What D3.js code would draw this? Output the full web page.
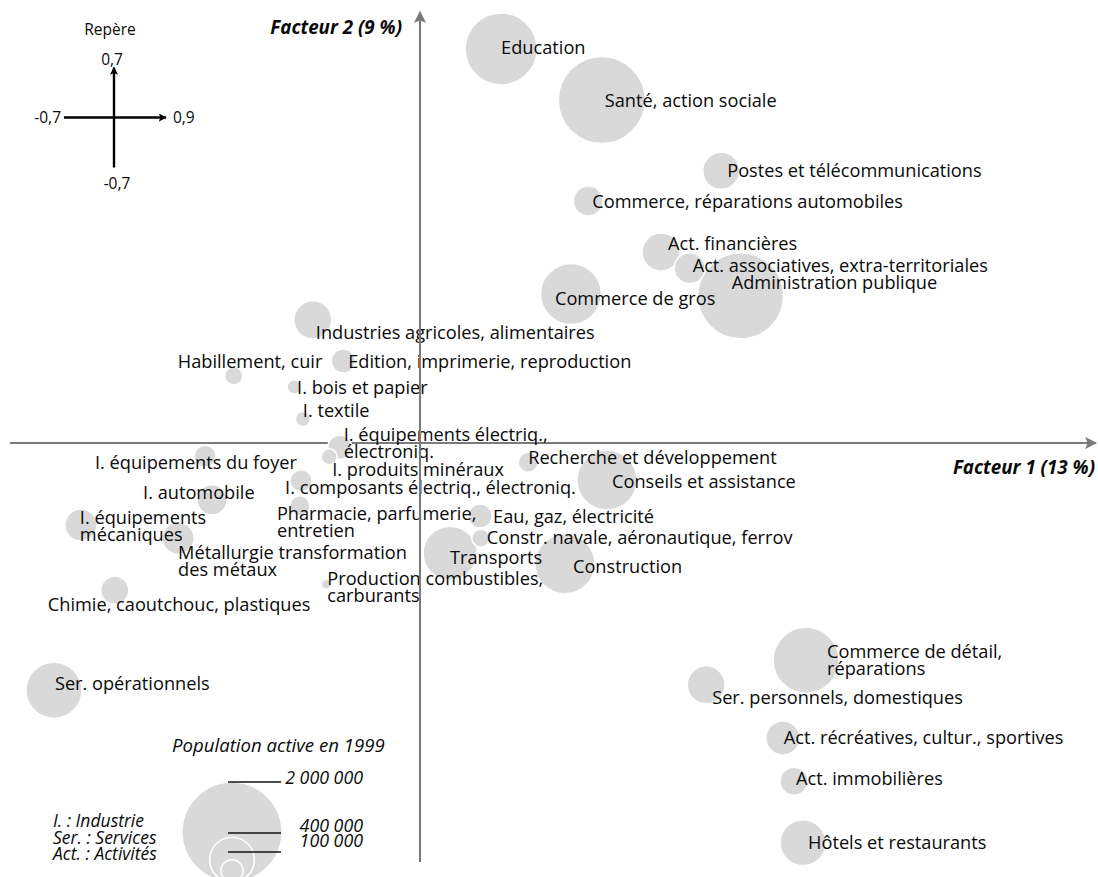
<!DOCTYPE html>
<html><head><meta charset="utf-8">
<script src="https://cdn.jsdelivr.net/npm/d3@7"></script>
<style>
body{margin:0;background:#fff}
svg{display:block}
text{font-family:"Open Sans","Noto Sans",sans-serif;fill:#0a0a0a}
</style>
</head><body>
<svg id="chart" width="1098" height="877"></svg>
<script>
// ---- DATA ----
const sectors = [
  "Education","Santé, action sociale","Postes et télécommunications","Commerce, réparations automobiles",
  "Act. financières","Act. associatives, extra-territoriales","Administration publique","Commerce de gros",
  "Industries agricoles, alimentaires","Habillement, cuir","Edition, imprimerie, reproduction","I. bois et papier",
  "I. textile","I. équipements électriq.,|électroniq.","I. produits minéraux","I. composants électriq., électroniq.",
  "Pharmacie, parfumerie,|entretien","Eau, gaz, électricité","Constr. navale, aéronautique, ferrov","Transports",
  "Construction","Recherche et développement","Conseils et assistance","Production combustibles,|carburants",
  "I. équipements du foyer","I. automobile","I. équipements|mécaniques","Métallurgie transformation|des métaux",
  "Chimie, caoutchouc, plastiques","Ser. opérationnels","Commerce de détail,|réparations","Ser. personnels, domestiques",
  "Act. récréatives, cultur., sportives","Act. immobilières","Hôtels et restaurants"
];
const factor1 = [
  0.108, 0.242, 0.401, 0.224,
  0.321, 0.359, 0.427, 0.201,
  -0.183, -0.318, -0.131, -0.215,
  -0.200, -0.137, -0.155, -0.203,
  -0.205, 0.080, 0.081, 0.040,
  0.193, 0.144, 0.249, -0.160,
  -0.367, -0.355, -0.579, -0.413,
  -0.521, -0.625, 0.514, 0.381,
  0.483, 0.498, 0.510
];
const factor2 = [
  0.640, 0.557, 0.442, 0.393,
  0.310, 0.284, 0.239, 0.242,
  0.200, 0.109, 0.133, 0.091,
  0.039, -0.007, -0.023, -0.063,
  -0.105, -0.122, -0.159, -0.184,
  -0.202, -0.032, -0.062, -0.236,
  -0.022, -0.095, -0.137, -0.159,
  -0.246, -0.413, -0.363, -0.404,
  -0.493, -0.565, -0.668
];
// population active 1999, thousands
const population = [
  1037, 1514, 274, 180,
  289, 192, 1479, 740,
  289, 65, 115, 39,
  45, 115, 51, 97,
  80, 115, 65, 583,
  720, 80, 720, 20,
  97, 180, 205, 205,
  157, 627, 871, 289,
  231, 157, 423
];
const legendValues = [2000, 400, 100];
const legendTexts = ["2 000 000", "400 000", "100 000"];
const abbreviations = ["I. : Industrie", "Ser. : Services", "Act. : Activités"];
const axisTitles = ["Facteur 1 (13 %)", "Facteur 2 (9 %)"];
const repereLabels = ["0,7", "-0,7", "0,9", "-0,7"];

// ---- LAYOUT (label offsets in px from bubble centre) ----
const labelDx = [0,3,6,4, 7,3,-9,-16, 3,-56,5,3, 0,4,3,-16, -23,13,6,0, 8,0,5,1, -110,-69,-1,0, -67,1,21,6, 1,2,5];
const labelDy = [-1,0,0,0, -9,-3,-13,4, 13,-14,0,0, -9,-4.5,13,7, 16,0,-1,4, 3,-5,1,3, 6,-7,1,23, 14,-7,0,13, -1,-3,0];

const svg = d3.select("#chart");
const x = d3.scaleLinear().domain([-0.7, 0, 0.9]).range([10, 420, 1096]);
const y = d3.scaleLinear().domain([-0.7, 0, 0.7]).range([862, 443, 12]);
const r = d3.scaleSqrt().domain([0, 2000]).range([0, 50]);

const axisColor = "#7a7a7a";
const defs = svg.append("defs");
defs.append("marker").attr("id","arrowGrey2").attr("viewBox","0 0 10 10").attr("refX",9).attr("refY",5)
  .attr("markerWidth",14).attr("markerHeight",12).attr("markerUnits","userSpaceOnUse").attr("orient","auto")
  .append("path").attr("d","M0,0L10,5L0,10L2,5z").attr("fill",axisColor);
defs.append("marker").attr("id","arrowBlack").attr("viewBox","0 0 10 10").attr("refX",9).attr("refY",5)
  .attr("markerWidth",8).attr("markerHeight",8).attr("markerUnits","userSpaceOnUse").attr("orient","auto")
  .append("path").attr("d","M0,0L10,5L0,10L2,5z").attr("fill","#000");

// horizontal axis (under the bubbles)
svg.append("line").attr("x1", x(-0.7)).attr("x2", x(0.9)).attr("y1", y(0)).attr("y2", y(0))
  .attr("stroke", axisColor).attr("stroke-width", 2).attr("marker-end","url(#arrowGrey2)");

// bubbles
const data = sectors.map((s,i)=>({name:s, f1:factor1[i], f2:factor2[i], pop:population[i], dx:labelDx[i], dy:labelDy[i]}));
const sorted = data.slice().sort((a,b)=>b.pop-a.pop);
svg.append("g").selectAll("circle").data(sorted).join("circle")
  .attr("cx", d=>x(d.f1)).attr("cy", d=>y(d.f2)).attr("r", d=>r(d.pop))
  .attr("fill", "#d9d9d9").attr("stroke", "#fff").attr("stroke-width", 1.5);

// labels
const lab = svg.append("g").style("font-size","18.2px").selectAll("text").data(data).join("text")
  .attr("x", d=>x(d.f1)+d.dx).attr("y", d=>y(d.f2)+d.dy);
lab.each(function(d){
  const lines = d.name.split("|");
  const t = d3.select(this);
  const gap = 17;
  const first = lines.length>1 ? -gap/2 : 0;
  lines.forEach((ln,k)=>{
    t.append("tspan").attr("x", x(d.f1)+d.dx).attr("y", y(d.f2)+d.dy + first + k*gap).attr("dy","0.36em").text(ln);
  });
});

// vertical axis (on top)
svg.append("line").attr("x1", x(0)).attr("x2", x(0)).attr("y1", y(-0.7)).attr("y2", y(0.7))
  .attr("stroke", axisColor).attr("stroke-width", 2).attr("marker-end","url(#arrowGrey2)");

// axis titles
svg.append("text").attr("x", 1095).attr("y", 474).attr("text-anchor","end")
  .style("font-size","18.8px").style("font-weight","bold").style("font-style","italic").text(axisTitles[0]);
svg.append("text").attr("x", 402).attr("y", 34).attr("text-anchor","end")
  .style("font-size","18.8px").style("font-weight","bold").style("font-style","italic").text(axisTitles[1]);

// repère
const rep = svg.append("g").style("font-size","15.5px");
const rx = 114, ry = 117.5, rlen = 50;
rep.append("text").attr("x",110).attr("y",35).attr("text-anchor","middle").text("Repère");
rep.append("line").attr("x1",rx).attr("x2",rx).attr("y1",ry+rlen).attr("y2",ry-rlen).attr("stroke","#000").attr("stroke-width",2.4).attr("marker-end","url(#arrowBlack)");
rep.append("line").attr("x1",rx-rlen).attr("x2",rx+rlen+2).attr("y1",ry).attr("y2",ry).attr("stroke","#000").attr("stroke-width",2.4).attr("marker-end","url(#arrowBlack)");
rep.append("text").attr("x",rx-2).attr("y",ry-53).attr("text-anchor","middle").text(repereLabels[0]);
rep.append("text").attr("x",rx-53).attr("y",ry+5).attr("text-anchor","end").text(repereLabels[1]);
rep.append("text").attr("x",rx+59).attr("y",ry+5).attr("text-anchor","start").text(repereLabels[2]);
rep.append("text").attr("x",rx+3).attr("y",ry+71).attr("text-anchor","middle").text(repereLabels[3]);

// size legend
const lg = svg.append("g");
const lcx = 232, lbottom = 882;
lg.append("text").attr("x",172).attr("y",752).style("font-size","18.6px").style("font-style","italic").text("Population active en 1999");
lg.selectAll("circle").data(legendValues).join("circle")
  .attr("cx", lcx).attr("cy", d=>lbottom - r(d)).attr("r", d=>r(d))
  .attr("fill", (d,i)=> i===0 ? "#d9d9d9" : "none").attr("stroke","#fff").attr("stroke-width",1.5);
const legendLineY = [782, 833, 852];
const legendTextY = [784, 832, 847];
lg.selectAll("line").data(legendValues).join("line")
  .attr("x1", lcx-4).attr("x2", 281).attr("y1",(d,i)=>legendLineY[i]).attr("y2",(d,i)=>legendLineY[i])
  .attr("stroke","#111").attr("stroke-width",1.4);
lg.selectAll("text.val").data(legendTexts).join("text").attr("class","val")
  .attr("x", 363).attr("y",(d,i)=>legendTextY[i]).attr("text-anchor","end")
  .style("font-size","17.8px").style("font-style","italic").text(d=>d);
lg.selectAll("text.abbr").data(abbreviations).join("text").attr("class","abbr")
  .attr("x", 53).attr("y",(d,i)=>827 + i*16.5)
  .style("font-size","17.5px").style("font-style","italic").text(d=>d);
</script>
</body></html>
